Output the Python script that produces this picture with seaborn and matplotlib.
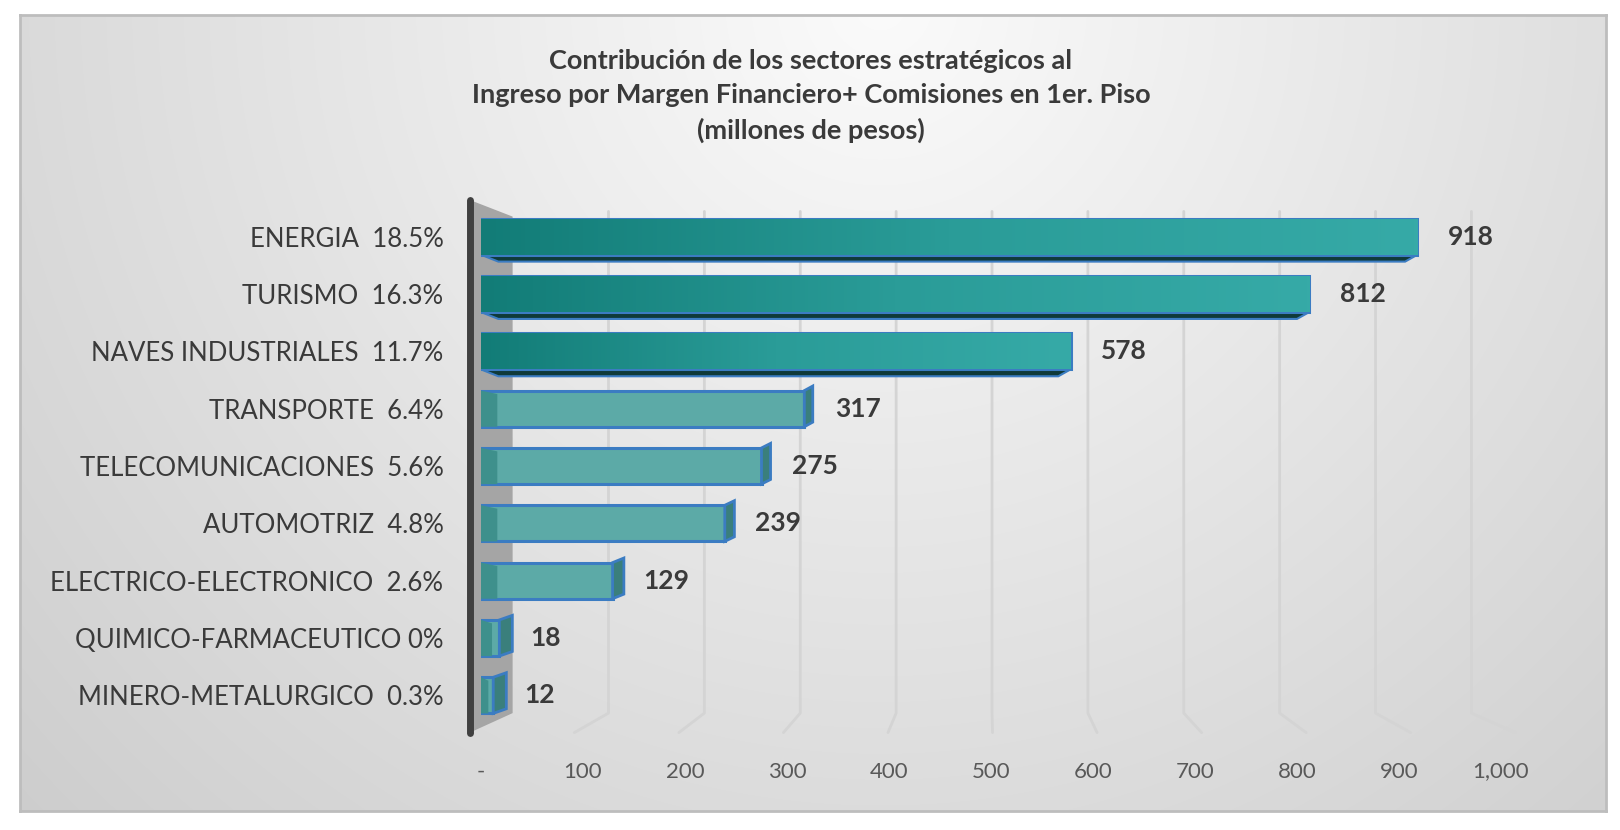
import numpy as np
import pandas as pd
import matplotlib
matplotlib.use('Agg')
import matplotlib.pyplot as plt
import seaborn as sns
from matplotlib.patches import Polygon
from matplotlib.colors import LinearSegmentedColormap
from matplotlib.ticker import FuncFormatter

# datos del grafico (millones de pesos)
sectores = ['ENERGIA  18.5%', 'TURISMO  16.3%', 'NAVES INDUSTRIALES  11.7%',
            'TRANSPORTE  6.4%', 'TELECOMUNICACIONES  5.6%', 'AUTOMOTRIZ  4.8%',
            'ELECTRICO-ELECTRONICO  2.6%', 'QUIMICO-FARMACEUTICO 0%',
            'MINERO-METALURGICO  0.3%']
ingreso = [918, 812, 578, 317, 275, 239, 129, 18, 12]
ticks_x = [0, 100, 200, 300, 400, 500, 600, 700, 800, 900, 1000]

titulo = ('Contribución de los sectores estratégicos al\n'
          'Ingreso por Margen Financiero+ Comisiones en 1er. Piso\n'
          '(millones de pesos)')

df = pd.DataFrame({'sector': sectores, 'ingreso': ingreso})

sns.set_style('white')
plt.rcParams['font.family'] = ['Lato', 'DejaVu Sans']

W, H = 1620, 830
fig = plt.figure(figsize=(W / 100, H / 100), dpi=100)

# fondo con degradado
bg = fig.add_axes([20 / W, 1 - 811 / H, 1586 / W, 796 / H], zorder=-10)
yy, xx = np.mgrid[0:796, 0:1586]
d = np.hypot(xx - 860, yy + 10)
val = np.clip(251 - 31 * d / 800, 195, 252) / 255.0
bg.imshow(np.dstack([val, val, val]), aspect='auto', interpolation='bilinear')
bg.set_xticks([])
bg.set_yticks([])
for s in bg.spines.values():
    s.set_color('#bdbdbd')
    s.set_linewidth(2)

ax = fig.add_axes([481 / W, 1 - 724 / H, 1020 / W, 516 / H])
ax.patch.set_alpha(0)

n_dest = 3  # sectores destacados con color oscuro
paleta = ['#1d8e89'] * n_dest + ['#5caaa7'] * (len(sectores) - n_dest)
sns.barplot(data=df, x='ingreso', y='sector', hue='sector', palette=paleta,
            legend=False, orient='h', width=0.63, ax=ax, saturation=1,
            edgecolor='#3b7cc2', linewidth=2.2, zorder=5)

ax.set_xlim(0, 1000)
ax.set_ylim(len(sectores) - 0.5, -0.5)

# lineas de cuadricula en perspectiva (pared del fondo y piso)
for t in ticks_x[1:]:
    xb = 31 + 0.94 * t
    xf = t - 11 + 0.025 * t
    ax.plot([xb, xb, xf], [-0.44, 8.31, 8.65], color='#d4d4d4', lw=2,
            zorder=1, clip_on=False, solid_joinstyle='round')

# pared lateral gris y eje izquierdo
pared = Polygon([(-11, -0.64), (31, -0.35), (31, 8.31), (-11, 8.65)],
                closed=True, facecolor='#a5a5a5', edgecolor='none',
                zorder=2, clip_on=False)
ax.add_patch(pared)
ax.plot([-11, -11], [-0.64, 8.65], color='#404040', lw=5,
        solid_capstyle='round', zorder=3, clip_on=False)

cmap_osc = LinearSegmentedColormap.from_list('osc', ['#127c77', '#2a9c98', '#36aaa7'])
grad = np.linspace(0, 1, 256).reshape(1, -1)

for i, p in enumerate(ax.patches[:len(sectores)]):
    x0, y0 = p.get_x(), p.get_y()
    w, h = p.get_width(), p.get_height()
    if i < n_dest:
        im = ax.imshow(grad, extent=[x0, x0 + w, y0 + h, y0], aspect='auto',
                       cmap=cmap_osc, zorder=5.5)
        im.set_clip_path(p)
        # cara inferior oscura
        cara = Polygon([(x0, y0 + h), (x0 + w, y0 + h),
                        (x0 + w - 12, y0 + h + 0.12), (x0 + 17, y0 + h + 0.12)],
                       closed=True, facecolor='#0f3a39', edgecolor='#3b7cc2',
                       lw=1.5, zorder=4)
        ax.add_patch(cara)
        ax.add_patch(Polygon(p.get_verts(), closed=True, fill=False,
                             edgecolor='#3b7cc2', lw=2.2, zorder=6))
    else:
        izq = min(16, w * 0.6)
        ax.add_patch(Polygon([(x0, y0), (x0 + izq, y0 + 0.06),
                              (x0 + izq, y0 + h), (x0, y0 + h)],
                             closed=True, facecolor='#3e908c', edgecolor='none',
                             zorder=5.5))
        # tapa lateral en perspectiva
        prof = 13 - 0.015 * w
        tapa = Polygon([(x0 + w, y0), (x0 + w + prof, y0 - 0.08),
                        (x0 + w + prof, y0 + h - 0.08), (x0 + w, y0 + h)],
                       closed=True, facecolor='#3a7f7c', edgecolor='#3b7cc2',
                       lw=2, zorder=6)
        ax.add_patch(tapa)
        ax.add_patch(Polygon(p.get_verts(), closed=True, fill=False,
                             edgecolor='#3b7cc2', lw=2.2, zorder=6))

# etiquetas de valor
for i, v in enumerate(ingreso):
    ax.annotate(f'{v:,}', xy=(v, i), xytext=(22, 0), textcoords='offset points',
                ha='left', va='center', fontsize=19, fontweight='bold',
                color='#3a3a3a', zorder=7)

ax.set_xticks(ticks_x)
ax.xaxis.set_major_formatter(FuncFormatter(lambda v, pos: '-' if v == 0 else f'{int(v):,}'))
ax.tick_params(axis='x', length=0, pad=27, labelsize=16, labelcolor='#595959')
ax.tick_params(axis='y', length=0, pad=27, labelsize=18.5, labelcolor='#3a3a3a')
ax.set_xlabel('')
ax.set_ylabel('')
ax.grid(False)
sns.despine(ax=ax, left=True, bottom=True)

fig.text(811 / W, 1 - 96 / H, titulo, ha='center', va='center', fontsize=19.5,
         fontweight='bold', color='#3a3a3a', linespacing=1.5)

fig.savefig('out.png', dpi=100)
